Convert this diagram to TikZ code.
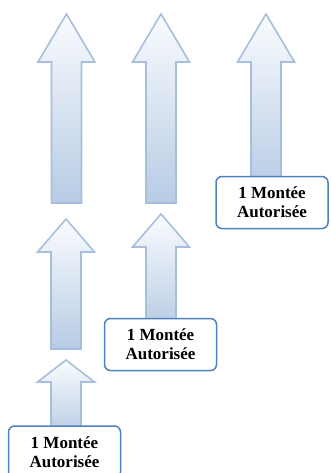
\documentclass[tikz,border=0pt]{standalone}
\usepackage{fontspec}
\setmainfont{Liberation Serif}
\usetikzlibrary{calc}
\definecolor{arrowborder}{HTML}{A7BFDE}
\definecolor{arrowtop}{HTML}{FAFCFE}
\definecolor{arrowbottom}{HTML}{B7CBE4}
\definecolor{boxborder}{HTML}{4F81BD}
\newcommand{\uparr}[4]{%
  \path[blockarrow] (#1-15,#4) -- (#1-15,#3) -- (#1-28.5,#3) -- (#1,#2)
    -- (#1+28.5,#3) -- (#1+15,#3) -- (#1+15,#4) -- cycle;}
\begin{document}
\begin{tikzpicture}[x=1pt,y=-1pt,
  blockarrow/.style={draw=arrowborder,line width=1.6pt,line join=miter,
    top color=arrowtop,bottom color=arrowbottom},
  labelbox/.style={draw=boxborder,line width=1.5pt,fill=white,rounded corners=6pt,
    minimum width=112pt,minimum height=52pt,inner sep=0pt,align=center,
    font=\fontsize{17}{19}\selectfont\bfseries}]
\useasboundingbox (0,0) rectangle (330,473);
% arrows
\uparr{66.5}{14}{62}{203}
\uparr{161}{14}{62}{203}
\uparr{266}{14}{62}{190}
\uparr{66}{219}{252}{349}
\uparr{161}{214}{247}{330}
\uparr{66}{360}{382}{436}
% boxes
\node[labelbox] (b3) at (272,202.5) {1 Montée\\Autorisée};
\node[labelbox] (b5) at (160.5,344.5) {1 Montée\\Autorisée};
\node[labelbox] (b6) at (64.5,452) {1 Montée\\Autorisée};
\end{tikzpicture}
\end{document}
